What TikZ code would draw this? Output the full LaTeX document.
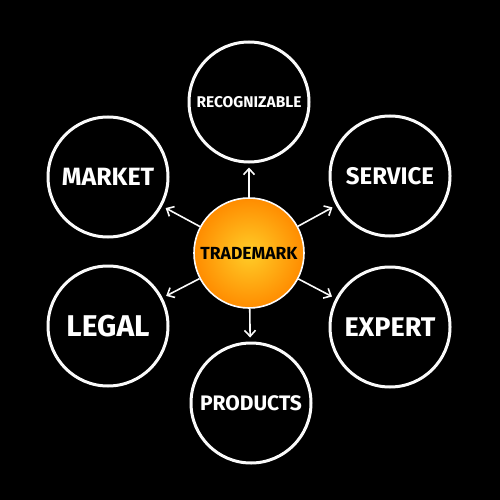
\documentclass[tikz,border=0pt]{standalone}
\usepackage{fontspec}
\setmainfont{Fira Sans}
\usetikzlibrary{arrows.meta}
\definecolor{ringwhite}{RGB}{250,250,250}
\definecolor{sunlight}{RGB}{255,205,40}
\definecolor{sundark}{RGB}{255,140,0}
\tikzset{
  topic/.style={circle, draw=ringwhite, line width=3pt, minimum size=120pt, inner sep=0pt,
    text=white, font=\bfseries},
  hub/.style={circle, draw=ringwhite, line width=1.6pt, minimum size=110pt, inner sep=0pt,
    inner color=sunlight, outer color=sundark, text=black, font=\bfseries},
  link/.style={-{Straight Barb[length=6pt,width=11pt]}, draw=ringwhite, line width=1.6pt,
    shorten >=4pt}
}
\newcommand{\fs}[1]{\fontsize{#1}{#1}\selectfont}
\begin{document}
\begin{tikzpicture}[x=1pt,y=-1pt]
    \fill[black] (0,0) rectangle (500,500);
    \useasboundingbox (0,0) rectangle (500,500);
    \node[hub](tm) at (249,253){\fs{17.5}TRADEMARK};
    \node[topic](rec) at (249,102){\fs{15.5}RECOGNIZABLE};
    \node[topic](mkt) at (108,177){\fs{25}MARKET};
    \node[topic](srv) at (390,176){\fs{24}SERVICE};
    \node[topic](lgl) at (108,326){\fs{30}LEGAL};
    \node[topic](exp) at (390,327){\fs{27}EXPERT};
    \node[topic](prd) at (251,403){\fs{21}PRODUCTS};
    \foreach \t in {rec,mkt,srv,lgl,exp,prd}
        \draw[link] (tm) -- (\t);
\end{tikzpicture}
\end{document}
